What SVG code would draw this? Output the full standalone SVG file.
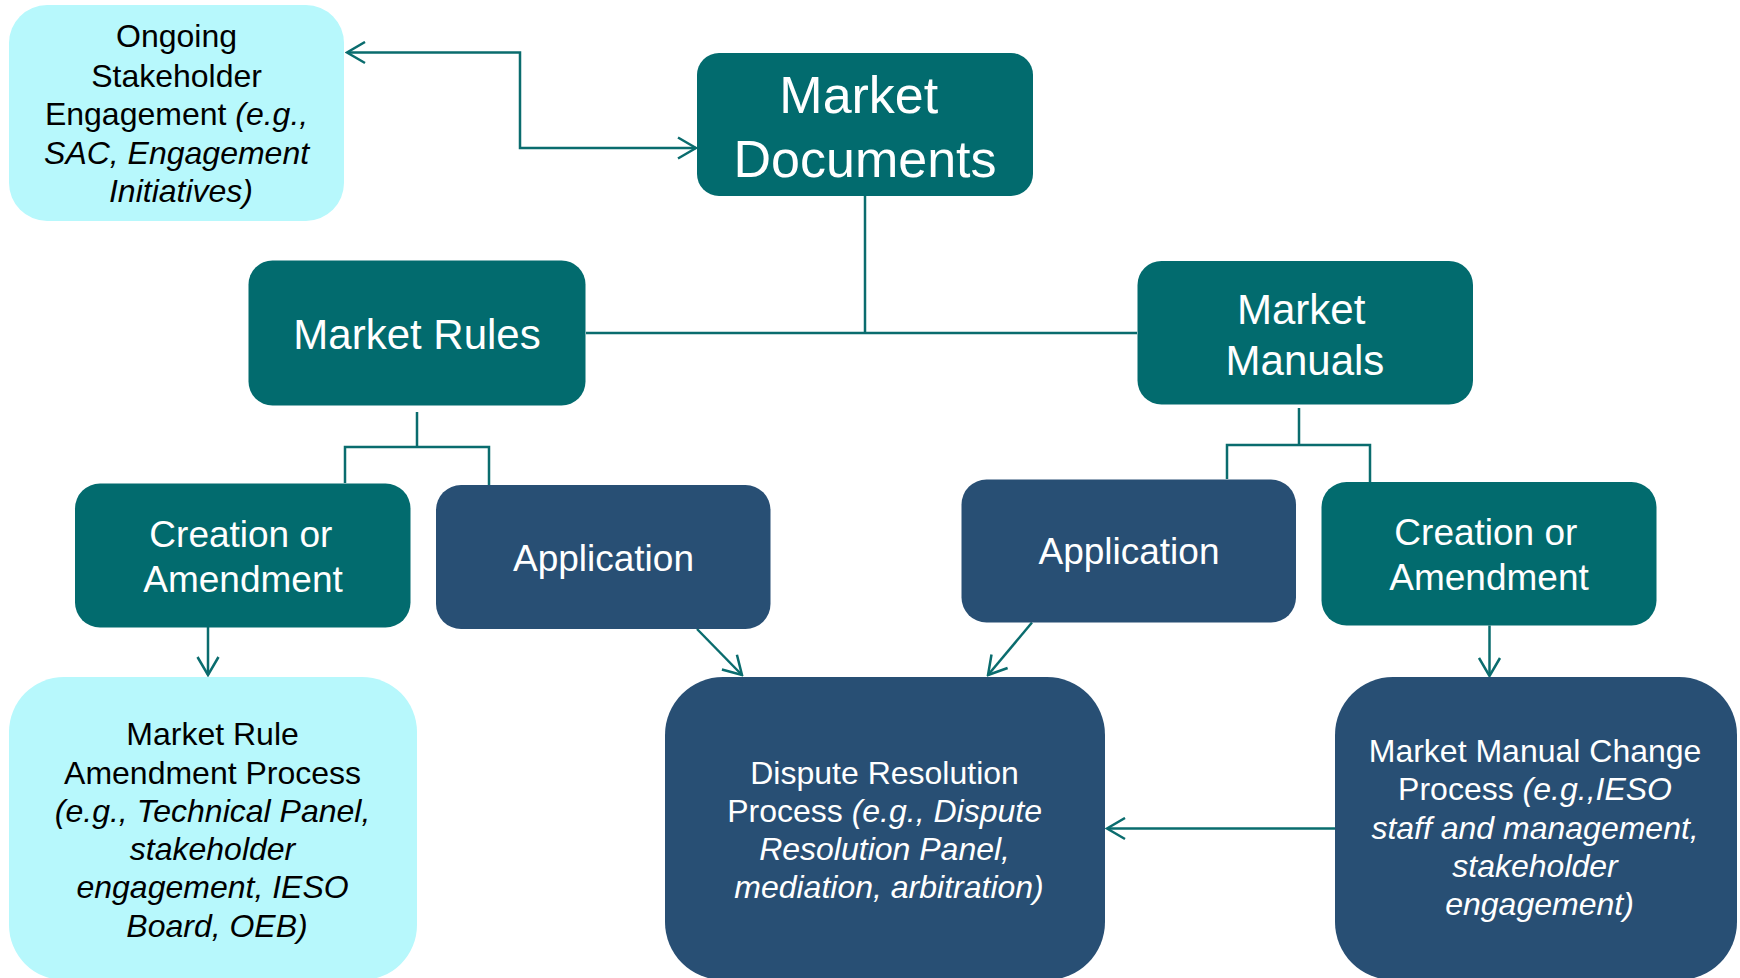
<svg xmlns="http://www.w3.org/2000/svg" width="1740" height="978" viewBox="0 0 1740 978">
  <style>
    .teal { fill: #026b6e; }
    .navy { fill: #284f74; }
    .cyan { fill: #b7f8fc; }
    .t { font-family: "Liberation Sans", Arial, sans-serif; text-anchor: middle; }
    .w { fill: #ffffff; }
    .k { fill: #000000; }
    .i { font-style: italic; }
    .link { fill: none; stroke: #0a6c6e; stroke-width: 2.5; }
  </style>
  <defs>
    <marker id="chev" viewBox="0 0 22 24" refX="20" refY="12" markerWidth="22" markerHeight="24" markerUnits="userSpaceOnUse" orient="auto-start-reverse">
      <path d="M2,1.5 L20,12 L2,22.5" fill="none" stroke="#0a6c6e" stroke-width="2.5"/>
    </marker>
  </defs>

  <rect width="1740" height="978" fill="#ffffff"/>

  <!-- connectors -->
  <g id="connectors">
    <path class="link" d="M347,52.5 H520 V148 H696" marker-start="url(#chev)" marker-end="url(#chev)"/>
    <path class="link" d="M865,196 V333"/>
    <path class="link" d="M586,333 H1137"/>
    <path class="link" d="M417,412 V447 M345,483 V447 H489 V485"/>
    <path class="link" d="M1299,408 V445 M1227,479 V445 H1370 V482"/>
    <path class="link" d="M208,627 V675" marker-end="url(#chev)"/>
    <path class="link" d="M697,629 L742,675" marker-end="url(#chev)"/>
    <path class="link" d="M1032,622.5 L988,675" marker-end="url(#chev)"/>
    <path class="link" d="M1489.5,625.5 V676" marker-end="url(#chev)"/>
    <path class="link" d="M1335,828.5 H1107" marker-end="url(#chev)"/>
  </g>

  <!-- Ongoing stakeholder engagement -->
  <g id="node-engagement">
    <rect class="cyan" x="9" y="5" width="335" height="216" rx="38"/>
    <text class="t k" font-size="32">
      <tspan x="181" y="47">Ongoing</tspan>
      <tspan x="181" y="86.5">Stakeholder</tspan>
      <tspan x="181" y="125">Engagement <tspan class="i">(e.g.,</tspan></tspan>
      <tspan x="181" y="163.5" class="i">SAC, Engagement</tspan>
      <tspan x="181" y="202" class="i">Initiatives)</tspan>
    </text>
  </g>

  <!-- Market Documents -->
  <g id="node-documents">
    <rect class="teal" x="697" y="53" width="336" height="143" rx="22"/>
    <text class="t w" font-size="52">
      <tspan x="866" y="113">Market</tspan>
      <tspan x="865" y="177">Documents</tspan>
    </text>
  </g>

  <!-- Market Rules -->
  <g id="node-rules">
    <rect class="teal" x="248.5" y="260.5" width="337" height="145" rx="24"/>
    <text class="t w" font-size="42" x="417" y="349">Market Rules</text>
  </g>

  <!-- Market Manuals -->
  <g id="node-manuals">
    <rect class="teal" x="1137.5" y="261" width="335.5" height="143.5" rx="24"/>
    <text class="t w" font-size="42">
      <tspan x="1307" y="324">Market</tspan>
      <tspan x="1305" y="375">Manuals</tspan>
    </text>
  </g>

  <!-- Market Rules: creation or amendment -->
  <g id="node-rules-creation">
    <rect class="teal" x="75" y="483.5" width="335.5" height="144" rx="25"/>
    <text class="t w" font-size="37">
      <tspan x="246" y="546.5">Creation or</tspan>
      <tspan x="243" y="591.5">Amendment</tspan>
    </text>
  </g>

  <!-- Market Rules: application -->
  <g id="node-rules-application">
    <rect class="navy" x="436" y="485" width="334.5" height="144" rx="25"/>
    <text class="t w" font-size="37" x="603.5" y="571">Application</text>
  </g>

  <!-- Market Manuals: application -->
  <g id="node-manuals-application">
    <rect class="navy" x="961.5" y="479.5" width="334.5" height="143" rx="25"/>
    <text class="t w" font-size="37" x="1129" y="564">Application</text>
  </g>

  <!-- Market Manuals: creation or amendment -->
  <g id="node-manuals-creation">
    <rect class="teal" x="1321.5" y="482" width="335" height="143.5" rx="25"/>
    <text class="t w" font-size="37">
      <tspan x="1491" y="545">Creation or</tspan>
      <tspan x="1489" y="590">Amendment</tspan>
    </text>
  </g>

  <!-- Market Rule amendment process -->
  <g id="node-rule-process">
    <rect class="cyan" x="9" y="677" width="408" height="303" rx="55"/>
    <text class="t k" font-size="32">
      <tspan x="217" y="745">Market Rule</tspan>
      <tspan x="217" y="783.5">Amendment Process</tspan>
      <tspan x="217" y="822" class="i">(e.g., Technical Panel,</tspan>
      <tspan x="217" y="860" class="i">stakeholder</tspan>
      <tspan x="217" y="898" class="i">engagement, IESO</tspan>
      <tspan x="217" y="936.5" class="i">Board, OEB)</tspan>
    </text>
  </g>

  <!-- Dispute resolution process -->
  <g id="node-dispute">
    <rect class="navy" x="665" y="677" width="440" height="303" rx="58"/>
    <text class="t w" font-size="32">
      <tspan x="889" y="783.5">Dispute Resolution</tspan>
      <tspan x="889" y="822">Process <tspan class="i">(e.g., Dispute</tspan></tspan>
      <tspan x="889" y="860" class="i">Resolution Panel,</tspan>
      <tspan x="889" y="898" class="i">mediation, arbitration)</tspan>
    </text>
  </g>

  <!-- Market Manual change process -->
  <g id="node-manual-process">
    <rect class="navy" x="1335" y="677" width="402" height="303" rx="58"/>
    <text class="t w" font-size="32">
      <tspan x="1539.5" y="762">Market Manual Change</tspan>
      <tspan x="1539.5" y="800">Process <tspan class="i">(e.g.,IESO</tspan></tspan>
      <tspan x="1539.5" y="838.5" class="i">staff and management,</tspan>
      <tspan x="1539.5" y="877" class="i">stakeholder</tspan>
      <tspan x="1539.5" y="915" class="i">engagement)</tspan>
    </text>
  </g>
</svg>
